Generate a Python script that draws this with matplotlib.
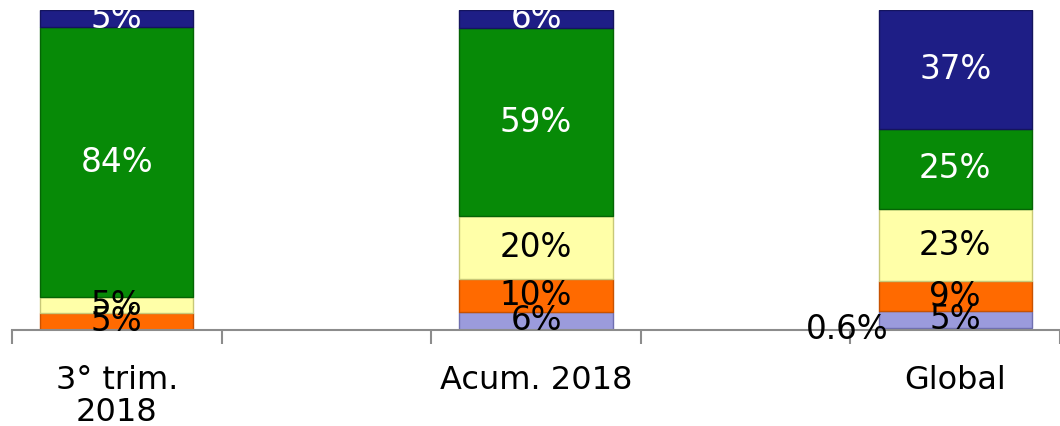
import matplotlib.pyplot as plt

# datos (porcentajes por categoria)
categorias = ['3° trim.\n2018', 'Acum. 2018', 'Global']
posiciones = [0, 2, 4]

otros = [0.0, 0.0, 0.6]
lavanda = [0.0, 5.7, 5.2]
naranja = [5.2, 10.1, 9.4]
amarillo = [5.2, 19.8, 22.7]
verde = [84.2, 58.8, 24.9]
azul = [5.4, 5.6, 37.2]

etiquetas = {
    'lavanda': ['', '6%', '5%'],
    'naranja': ['5%', '10%', '9%'],
    'amarillo': ['5%', '20%', '23%'],
    'verde': ['84%', '59%', '25%'],
    'azul': ['5%', '6%', '37%'],
}

series = [
    ('lavanda', lavanda, '#9b9bdc', '#6f6fb0', 'black'),
    ('naranja', naranja, '#ff6a00', '#c85200', 'black'),
    ('amarillo', amarillo, '#ffffa8', '#c8c878', 'black'),
    ('verde', verde, '#078a07', '#056405', 'white'),
    ('azul', azul, '#1e1e86', '#14145e', 'white'),
]

fig = plt.figure(figsize=(10.6, 4.26), dpi=100)
ax = fig.add_axes([12 / 1060, 1 - 330 / 426, 1 - 12 / 1060, 320 / 426])

ancho = 0.73
base = list(otros)
ax.bar(posiciones, otros, ancho, color='#7070b0', edgecolor='#7070b0', linewidth=0.5)

for nombre, vals, color, borde, ctexto in series:
    barras = ax.bar(posiciones, vals, ancho, bottom=base, color=color,
                    edgecolor=borde, linewidth=1.0)
    ax.bar_label(barras, labels=etiquetas[nombre], label_type='center',
                 color=ctexto, fontsize=23.5)
    base = [b + v for b, v in zip(base, vals)]

# etiqueta 0.6% fuera de la barra, a la izquierda
ax.annotate('0.6%', xy=(posiciones[2] - ancho / 2, otros[2] / 2),
            xytext=(7, 0), textcoords='offset points',
            ha='right', va='center', fontsize=23.5, color='black')

ax.set_xlim(-0.5, 4.5)
ax.set_ylim(0, 100)
ax.set_yticks([])
for lado in ['left', 'right', 'top']:
    ax.spines[lado].set_visible(False)
ax.spines['bottom'].set_color('#8c8c8c')
ax.spines['bottom'].set_linewidth(1.5)

ax.set_xticks(posiciones)
ax.set_xticklabels(categorias, fontsize=23)
ax.tick_params(axis='x', which='major', length=0, pad=25)
ax.set_xticks([-0.5, 0.5, 1.5, 2.5, 3.5, 4.5], minor=True)
ax.tick_params(axis='x', which='minor', length=10, width=1.5, color='#8c8c8c')
for t in ax.get_xticklabels():
    t.set_linespacing(1.05)

fig.savefig('out.png', dpi=100)
